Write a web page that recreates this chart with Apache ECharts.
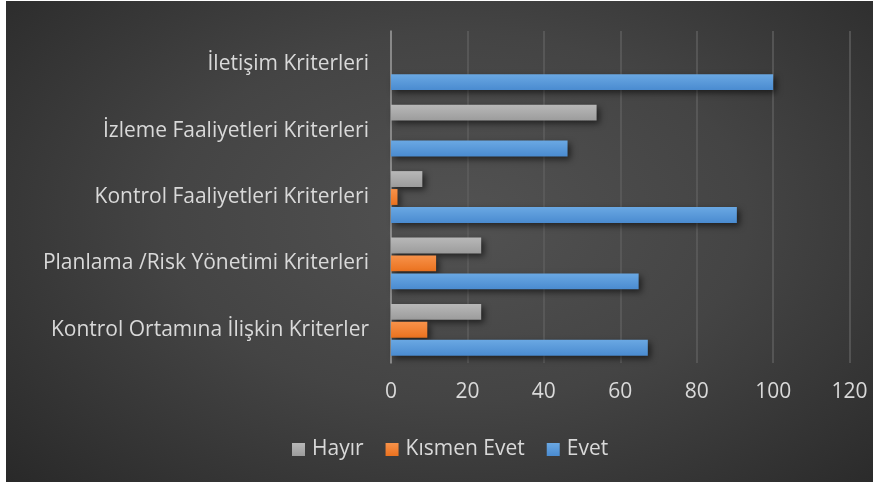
<!DOCTYPE html>
<html><head><meta charset="utf-8">
<script src="https://cdn.jsdelivr.net/npm/echarts@6/dist/echarts.min.js"></script>
<style>
html,body{margin:0;padding:0;background:#fff;width:873px;height:484px;overflow:hidden;}
#bg{position:absolute;left:6px;top:1px;width:867px;height:481px;
background:radial-gradient(ellipse 75% 85% at 52% 45%, #525252 0%, #444 45%, #262626 100%);}
#c{position:absolute;left:0;top:0;width:873px;height:484px;}
</style></head><body>
<div id="bg"></div>
<div id="c"></div>
<script>
const categories = ['Kontrol Ortamına İlişkin Kriterler','Planlama /Risk Yönetimi Kriterleri','Kontrol Faaliyetleri Kriterleri','İzleme Faaliyetleri Kriterleri','İletişim Kriterleri'];
const hayir = [23.6, 23.6, 8.2, 53.8, 0];
const kismen = [9.5, 11.8, 1.7, 0, 0];
const evet = [67.2, 64.8, 90.5, 46.2, 100];
const xTicks = {min:0, max:120, interval:20};

function grad(top, bottom){
  return new echarts.graphic.LinearGradient(0,0,0,1,[{offset:0,color:top},{offset:1,color:bottom}]);
}
const shadow = {shadowBlur:6, shadowOffsetX:3, shadowOffsetY:3, shadowColor:'rgba(0,0,0,0.55)'};
const font = 'Open Sans';
const chart = echarts.init(document.getElementById('c'), null, {renderer:'canvas'});
chart.setOption({
  backgroundColor:'transparent',
  animation:false,
  textStyle:{fontFamily:font},
  grid:{left:391, right:23.4, top:31, bottom:121, containLabel:false},
  legend:{
    data:['Hayır','Kısmen Evet','Evet'],
    left:287, top:434,
    icon:'rect', itemWidth:13, itemHeight:13, itemGap:22,
    textStyle:{color:'#d9d9d9', fontSize:21, fontFamily:font, padding:[0,0,0,2]}
  },
  xAxis:{
    type:'value', min:xTicks.min, max:xTicks.max, interval:xTicks.interval,
    axisLine:{show:false}, axisTick:{show:false},
    axisLabel:{color:'#d9d9d9', fontSize:21, fontFamily:font, margin:19},
    splitLine:{lineStyle:{color:'#5e5e5e', width:1.5}}
  },
  yAxis:{
    type:'category', data:categories,
    axisLine:{show:true, lineStyle:{color:'#9a9a9a', width:1.5}},
    axisTick:{show:false},
    axisLabel:{color:'#d9d9d9', fontSize:21, fontFamily:font, margin:22}
  },
  series:[
    {name:'Hayır', type:'bar', data:hayir, barGap:'13%', barCategoryGap:'22%',
     itemStyle:Object.assign({color:grad('#b8b8b8','#9c9c9c')}, shadow)},
    {name:'Kısmen Evet', type:'bar', data:kismen,
     itemStyle:Object.assign({color:grad('#f7924a','#eb721f')}, shadow)},
    {name:'Evet', type:'bar', data:evet,
     itemStyle:Object.assign({color:grad('#6aa8e3','#4a8bd0')}, shadow)}
  ]
});
</script>
</body></html>
